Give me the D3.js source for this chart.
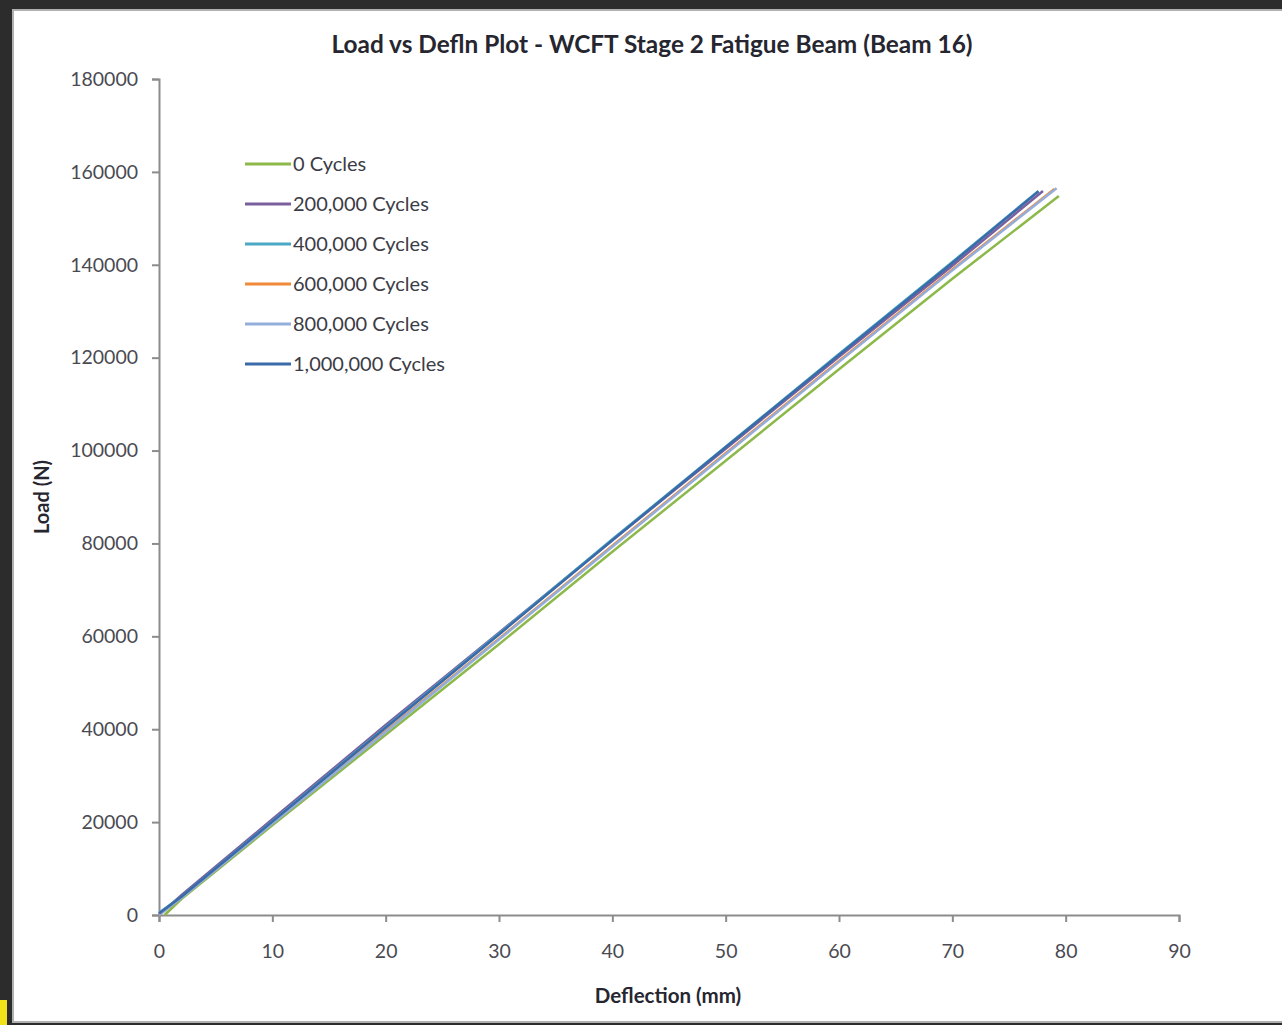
<!DOCTYPE html>
<html>
<head>
<meta charset="utf-8">
<script src="https://cdn.jsdelivr.net/npm/d3@7"></script>
<style>
  body { margin: 0; background: #2a2a2a; }
  svg { display: block; font-family: Lato, "Open Sans", sans-serif; }
</style>
</head>
<body>
<div id="chart-area"></div>
<script>
// data: [deflection mm, load N]
const seriesNames = ["0 Cycles", "200,000 Cycles", "400,000 Cycles", "600,000 Cycles", "800,000 Cycles", "1,000,000 Cycles"];
const seriesColors = ["#8db84a", "#7a5f9e", "#4aa8c4", "#f08a3a", "#94aedb", "#3a6ba8"];

const cycles0 = [[0.5, 0], [2, 3500], [10, 19300], [20, 38800], [30, 58300], [40, 78200], [50, 97800], [60, 117500], [70, 137000], [79.4, 154800]];
const cycles200k = [[0, 0], [2, 4300], [10, 20600], [20, 40900], [30, 60800], [40, 80700], [50, 100400], [60, 120200], [70, 139800], [78.0, 155900]];
const cycles400k = [[0, 500], [2, 4000], [10, 20200], [20, 40500], [30, 60600], [40, 80900], [50, 100800], [60, 120800], [70, 140600], [77.6, 155900]];
const cycles600k = [[0, 0], [2, 3800], [10, 19800], [20, 39600], [30, 59500], [40, 79500], [50, 99400], [60, 119300], [70, 139000], [79.0, 156300]];
const cycles800k = [[0, 0], [2, 3700], [10, 19700], [20, 39400], [30, 59300], [40, 79300], [50, 99200], [60, 119100], [70, 138800], [79.2, 156500]];
const cycles1m = [[0, 300], [2, 4000], [10, 20100], [20, 40300], [30, 60400], [40, 80700], [50, 100700], [60, 120600], [70, 140400], [77.6, 155800]];
const allSeries = [cycles0, cycles200k, cycles400k, cycles600k, cycles800k, cycles1m];

const xTicks = [0, 10, 20, 30, 40, 50, 60, 70, 80, 90];
const yTicks = [0, 20000, 40000, 60000, 80000, 100000, 120000, 140000, 160000, 180000];

const W = 1282, H = 1025;
const svg = d3.select("#chart-area").append("svg")
    .attr("width", W)
    .attr("height", H);

// screenshot frame
svg.append("rect").attr("x", 0).attr("y", 0).attr("width", W).attr("height", H).attr("fill", "#2c2c2c");
svg.append("rect").attr("x", 0).attr("y", 1000).attr("width", 7).attr("height", 25).attr("fill", "#f2e21a");
svg.append("rect")
    .attr("x", 13).attr("y", 10)
    .attr("width", 1275).attr("height", 1012)
    .attr("fill", "#fff")
    .attr("stroke", "#b0b0b0")
    .attr("stroke-width", 2);

const x = d3.scaleLinear().domain([0, 90]).range([159, 1179]);
const y = d3.scaleLinear().domain([0, 180000]).range([915, 79]);

const xAxis = svg.append("g")
    .attr("transform", "translate(0,915)")
    .call(d3.axisBottom(x).tickValues(xTicks).tickSizeInner(7).tickSizeOuter(7).tickPadding(22));
const yAxis = svg.append("g")
    .attr("transform", "translate(159,0)")
    .call(d3.axisLeft(y).tickValues(yTicks).tickFormat(d3.format("d")).tickSizeInner(7).tickSizeOuter(7).tickPadding(14));

[xAxis, yAxis].forEach(a => {
    a.selectAll("path, line").attr("stroke", "#8c8c8c").attr("stroke-width", 2);
    a.selectAll("text").attr("fill", "#4a4a52").attr("font-size", 19.5).attr("font-family", "Lato, sans-serif");
});
xAxis.selectAll("text").attr("dy", "0.71em");

const line = d3.line().x(d => x(d[0])).y(d => y(d[1]));

svg.append("g").selectAll("path")
    .data(allSeries)
    .enter().append("path")
    .attr("d", line)
    .attr("fill", "none")
    .attr("stroke", (d, i) => seriesColors[i])
    .attr("stroke-width", 2.5);

// legend
const legend = svg.append("g").selectAll("g")
    .data(seriesNames)
    .enter().append("g")
    .attr("transform", (d, i) => `translate(245,${164 + i * 40})`);
legend.append("line")
    .attr("x1", 0).attr("x2", 46)
    .attr("stroke", (d, i) => seriesColors[i])
    .attr("stroke-width", 3);
legend.append("text")
    .attr("x", 48).attr("dy", "0.35em")
    .attr("font-size", 20)
    .attr("fill", "#3c3c46")
    .text(d => d);

// titles
svg.append("text")
    .attr("x", 652).attr("y", 53)
    .attr("text-anchor", "middle")
    .attr("font-size", 24.4).attr("font-weight", "bold")
    .attr("fill", "#262630")
    .text("Load vs Defln Plot - WCFT Stage 2 Fatigue Beam (Beam 16)");
svg.append("text")
    .attr("x", 668).attr("y", 1003)
    .attr("text-anchor", "middle")
    .attr("font-size", 20.5).attr("font-weight", "bold")
    .attr("fill", "#262630")
    .text("Deflection (mm)");
svg.append("text")
    .attr("transform", "translate(49,497) rotate(-90)")
    .attr("text-anchor", "middle")
    .attr("font-size", 20).attr("font-weight", "bold")
    .attr("fill", "#262630")
    .text("Load (N)");
</script>
</body>
</html>
